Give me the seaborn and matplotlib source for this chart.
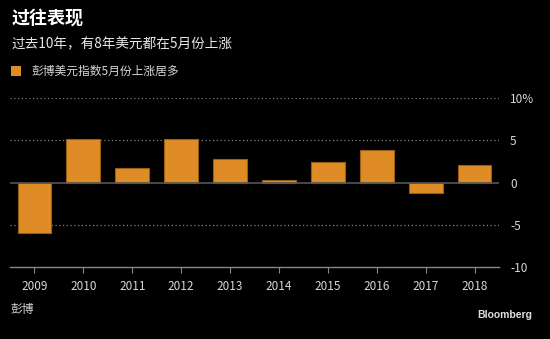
import matplotlib
matplotlib.use("Agg")
import matplotlib.pyplot as plt
import seaborn as sns
import pandas as pd

years = ["2009", "2010", "2011", "2012", "2013", "2014", "2015", "2016", "2017", "2018"]
values = [-6.0, 5.2, 1.7, 5.1, 2.8, 0.3, 2.4, 3.8, -1.3, 2.1]
ytick_vals = [10, 5, 0, -5, -10]
ytick_labels = ["10%", "5", "0", "-5", "-10"]

title = "过往表现"
subtitle = "过去10年，有8年美元都在5月份上涨"
legend_label = "彭博美元指数5月份上涨居多"
source = "彭博"
brand = "Bloomberg"

sns.set_theme(style="dark")
plt.rcParams['font.family'] = ['Noto Sans CJK SC', 'DejaVu Sans']

bar_color = "#DF8C26"
edge_color = "#9A5E12"
text_color = "#D8D8D8"

df = pd.DataFrame({"year": years, "value": values})

fig = plt.figure(figsize=(5.5, 3.39), dpi=100, facecolor="black")
ax = fig.add_axes([10/550, 1-267/339, (499-10)/550, (267-98)/339])
ax.set_facecolor("black")

sns.barplot(data=df, x="year", y="value", color=bar_color, width=0.69,
            edgecolor=edge_color, linewidth=0.8, saturation=1, ax=ax, zorder=3)

ax.set_ylim(-10, 10)
ax.set_xlim(-0.5, len(years) - 0.5)
ax.set_xlabel("")
ax.set_ylabel("")

for v in [10, 5, -5]:
    ax.axhline(v, color="#808080", linestyle=(0, (1, 2)), linewidth=0.9, zorder=1)
ax.axhline(0, color="#555555", linewidth=1.2, zorder=4)

for s in ["top", "left", "right"]:
    ax.spines[s].set_visible(False)
ax.spines["bottom"].set_color("#888888")
ax.spines["bottom"].set_linewidth(1.0)

ax.yaxis.tick_right()
ax.set_yticks(ytick_vals)
ax.set_yticklabels(ytick_labels)
ax.tick_params(axis="y", length=0, pad=8, labelsize=8.5, colors=text_color)
ax.tick_params(axis="x", direction="out", length=4, width=0.8, color="#888888",
               labelsize=8.5, labelcolor=text_color, pad=5, bottom=True)
ax.grid(False)

fig.text(12/550, 1-18/339, title, color="white", fontsize=13, fontweight="bold",
         va="center", ha="left")
fig.text(12/550, 1-44/339, subtitle, color="#E8E8E8", fontsize=9.8,
         va="center", ha="left")
fig.patches.append(plt.Rectangle((11/550, 1-76/339), 10/550, 10/339,
                                 transform=fig.transFigure, facecolor=bar_color,
                                 edgecolor="none"))
fig.text(31/550, 1-71/339, legend_label, color=text_color, fontsize=8.5,
         va="center", ha="left")
fig.text(10/550, 1-309/339, source, color=text_color, fontsize=8.5,
         va="center", ha="left")
fig.text(532/550, 1-315/339, brand, color="#E0E0E0", fontsize=7.5, fontweight="bold",
         va="center", ha="right", family=["Liberation Sans", "DejaVu Sans"])

fig.savefig("out.png", dpi=100, facecolor="black")
